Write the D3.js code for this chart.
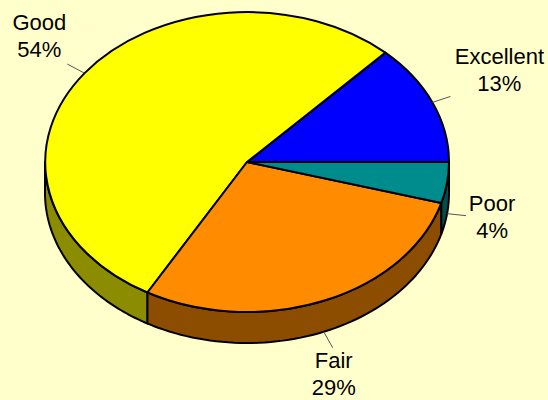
<!DOCTYPE html>
<html><head><meta charset="utf-8">
<script src="https://cdn.jsdelivr.net/npm/d3@7/dist/d3.min.js"></script>
<style>html,body{margin:0;padding:0;background:#FFFFCC}svg{display:block}</style>
</head><body><svg id="c" width="548" height="400"></svg>
<script>
const categories = ["Excellent","Good","Fair","Poor"];
const shares = [13,53.8,28.8,4.4];
const topColors = ["#0000FF","#FFFF00","#FF8C00","#008C8C"];
const wallColors = ["#00008C","#8C8C00","#8C4D00","#004D4D"];
const labelOffsets = [[67,-38],[-45,-43],[10,36.5],[45,-3]];
const leaderOffsets = [[18,-6],[-17,-9],[9,16],[19,2]];

const W=548,H=400,cx=247,cy=162,rx=202,ry=150,depth=31;
const svg=d3.select("#c");
svg.append("rect").attr("width",W).attr("height",H).attr("fill","#FFFFCC");

const arcs=d3.pie().sort(null).value(d=>d).startAngle(Math.PI/2).endAngle(Math.PI/2-2*Math.PI)(shares);
const X=d3.scaleLinear().domain([-1,1]).range([cx-rx,cx+rx]);
const Y=d3.scaleLinear().domain([-1,1]).range([cy-ry,cy+ry]);
// d3 angle: 0 = north, grows clockwise
const px=a=>X(Math.sin(a)), py=a=>Y(-Math.cos(a));
const line=d3.line();

// side walls: only the front half of the disc
arcs.forEach((s,i)=>{
  const hi=s.startAngle, lo=s.endAngle;   // hi > lo, running counter-clockwise
  const a0=Math.min(hi,-Math.PI/2), a1=Math.max(lo,-3*Math.PI/2);
  if(a0<=a1) return;
  const ts=d3.range(0,61).map(k=>a0+(a1-a0)*k/60);
  const pts=ts.map(a=>[px(a),py(a)]).concat(ts.slice().reverse().map(a=>[px(a),py(a)+depth]));
  svg.append("path").attr("d",line(pts)+"Z").attr("fill",wallColors[i])
     .attr("stroke","#000").attr("stroke-width",2).attr("stroke-linejoin","round");
});

// top face
const arc=d3.arc().innerRadius(0).outerRadius(1);
const g=svg.append("g").attr("transform",`translate(${X(0)},${Y(0)}) scale(${rx},${ry})`);
g.selectAll("path").data(arcs).join("path")
 .attr("d",arc).attr("fill",(d,i)=>topColors[i])
 .attr("stroke","#000").attr("stroke-width",2).attr("vector-effect","non-scaling-stroke").attr("stroke-linejoin","round");

// leaders and labels
arcs.forEach((s,i)=>{
  const m=(s.startAngle+s.endAngle)/2;
  const x0=px(m), y0=py(m)+(Math.cos(m)<0?depth:0);
  const [lx,ly]=leaderOffsets[i];
  svg.append("line").attr("x1",x0).attr("y1",y0).attr("x2",x0+lx).attr("y2",y0+ly)
     .attr("stroke","#555").attr("stroke-width",1);
  const [tx,ty]=labelOffsets[i];
  const t=svg.append("text").attr("text-anchor","middle")
     .attr("font-family","'Liberation Sans',Arial,sans-serif").attr("font-size",22).attr("fill","#000");
  t.append("tspan").attr("x",x0+tx).attr("y",y0+ty).text(categories[i]);
  t.append("tspan").attr("x",x0+tx).attr("y",y0+ty+27).text(Math.round(shares[i])+"%");
});
</script></body></html>
